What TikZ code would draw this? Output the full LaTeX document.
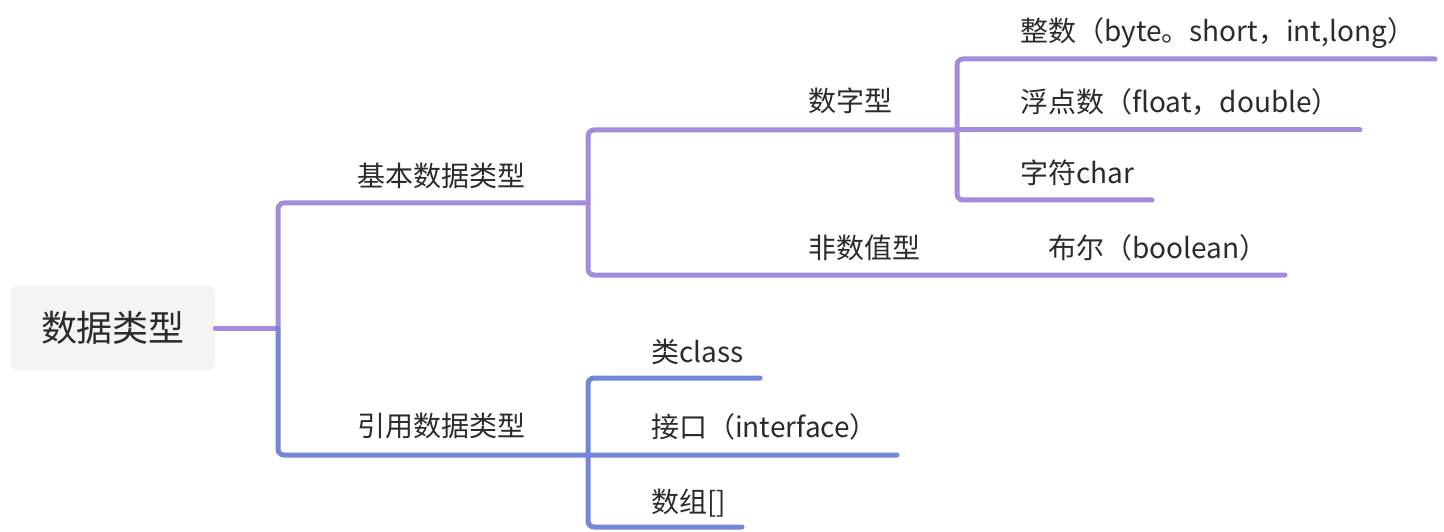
\documentclass[tikz,border=0pt]{standalone}
\usepackage{fontspec}
\setmainfont{Noto Sans CJK SC}
\definecolor{lpurple}{HTML}{A48BDC}
\definecolor{lblue}{HTML}{7486D8}
\definecolor{txt}{HTML}{2B2B2B}
\definecolor{rootbg}{HTML}{F4F4F4}
\begin{document}
\begin{tikzpicture}[x=1pt,y=-1pt,
  lbl/.style={anchor=base west,inner sep=0pt,text=txt,font=\fontsize{28}{32}\selectfont},
  link/.style={line width=5pt,line cap=round,rounded corners=6pt},
  plink/.style={link,draw=lpurple},
  blink/.style={link,draw=lblue}]
\useasboundingbox (0,0) rectangle (1444,532);
% root
\node[fill=rootbg,rounded corners=6pt,minimum width=204pt,minimum height=84pt,inner sep=0pt,
  text=txt,font=\fontsize{36}{40}\selectfont] (root) at (113,328) {数据类型};
% coordinates
\coordinate (t) at (278,328);
\coordinate (b1) at (588,203);
\coordinate (b2) at (588,455);
\coordinate (n1) at (957,130);
\coordinate (n2) at (957,275);
% labels
\node[lbl] (jb) at (357,186) {基本数据类型};
\node[lbl] (yy) at (357,436) {引用数据类型};
\node[lbl] (szx) at (808,112) {数字型};
\node[lbl] (fsz) at (808,258) {非数值型};
\node[lbl] (zs) at (1020,42) {整数（byte。short，int,long）};
\node[lbl] (fd) at (1020,113) {浮点数（float，double）};
\node[lbl] (zf) at (1020,183) {字符char};
\node[lbl] (be) at (1048,258) {布尔（boolean）};
\node[lbl] (cl) at (651,362) {类class};
\node[lbl] (jk) at (651,437) {接口（interface）};
\node[lbl] (sz) at (651,512) {数组[]};
% purple branch
\draw[plink,rounded corners=0pt] (root.east) -- (t);
\draw[plink] (t) -- (278,203) -- (b1);
\draw[plink] (n1) -- (588,130) -- (588,275) -- (n2) -- (1285,275);
\draw[plink] (1435,59) -- (957,59) -- (957,200) -- (1152,200);
\draw[plink] (n1) -- (1360,130);
% blue branch
\draw[blink] (t) -- (278,455) -- (b2) -- (897,455);
\draw[blink] (760,378) -- (588,378) -- (588,527) -- (742,527);
\end{tikzpicture}
\end{document}
